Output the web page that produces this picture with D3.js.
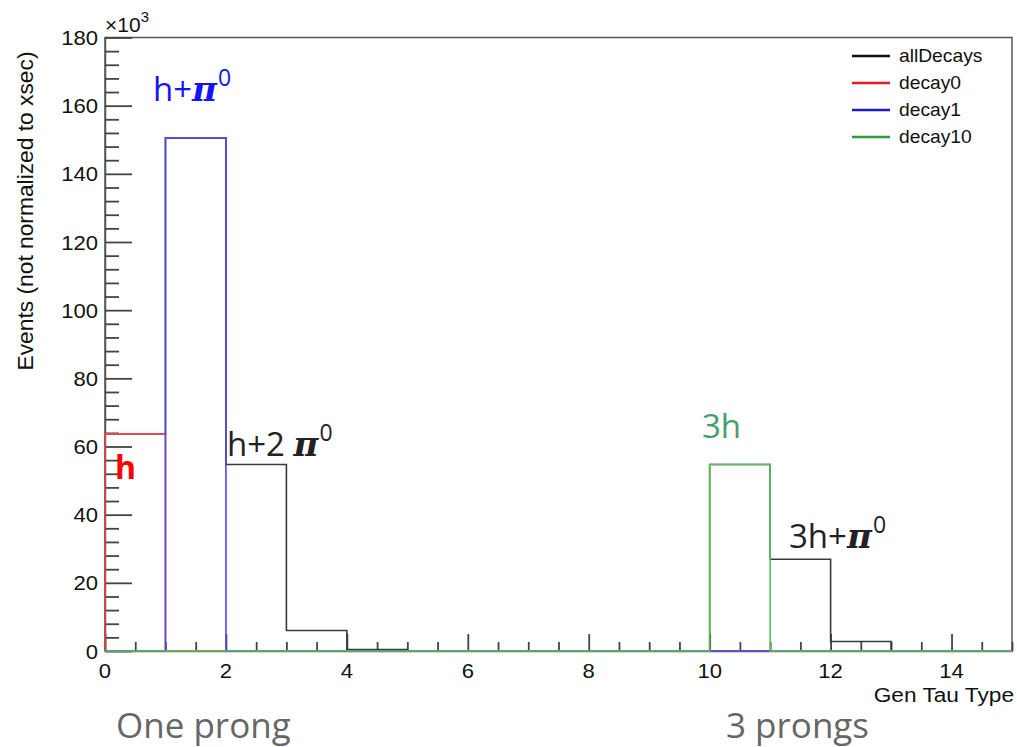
<!DOCTYPE html>
<html>
<head>
<meta charset="utf-8">
<script src="https://cdn.jsdelivr.net/npm/d3@7"></script>
<style>
  html, body { margin: 0; padding: 0; background: #fff; }
  svg { display: block; }
</style>
</head>
<body>
<svg id="chart" width="1017" height="747"></svg>
<script>
// ---- data (units of 10^3 events), one bin per unit of Gen Tau Type ----
const binEdges = [0,1,2,3,4,5,6,7,8,9,10,11,12,13,14,15];
const allDecays = [63.7, 150.5, 54.7, 6.0, 0.4, 0, 0, 0, 0, 0, 54.7, 26.9, 2.8, 0, 0];
const decay0    = [63.7, 0, 0, 0, 0, 0, 0, 0, 0, 0, 0, 0, 0, 0, 0];
const decay1    = [0, 150.5, 0, 0, 0, 0, 0, 0, 0, 0, 0, 0, 0, 0, 0];
const decay10   = [0, 0, 0, 0, 0, 0, 0, 0, 0, 0, 54.7, 0, 0, 0, 0];
const seriesNames = ["allDecays", "decay0", "decay1", "decay10"];
const xTicks = [0, 2, 4, 6, 8, 10, 12, 14];
const yTicks = [0, 20, 40, 60, 80, 100, 120, 140, 160, 180];

const seriesColors = { allDecays: "#3a3a3a", decay0: "#f04848", decay1: "#4a4ae6", decay10: "#5cbf5c" };
const legendColors = { allDecays: "#111", decay0: "#e8191e", decay1: "#1a1ad0", decay10: "#2e9a3a" };

const svg = d3.select("#chart");
const L = 105, R = 1012, T = 37.5, B = 651;
const x = d3.scaleLinear().domain([0, 15]).range([L, R]);
const y = d3.scaleLinear().domain([0, 180]).range([B, T]);

const rootFont = "'Liberation Sans', Arial, Helvetica, sans-serif";
const annFont = "'Open Sans', 'Noto Sans', sans-serif";

// frame
svg.append("rect").attr("x", L).attr("y", T).attr("width", R - L).attr("height", B - T)
  .attr("fill", "none").attr("stroke", "#555").attr("stroke-width", 1.5);

// y axis
const yAxis = d3.axisLeft(y).tickValues(d3.range(0, 181, 4)).tickSize(0).tickFormat("");
const gy = svg.append("g").attr("transform", `translate(${L},0)`).call(yAxis);
gy.select(".domain").attr("stroke", "#555").attr("stroke-width", 1.5);
gy.selectAll(".tick line").remove();
gy.selectAll(".tick").append("line")
  .attr("x1", 0).attr("y1", 0).attr("y2", 0)
  .attr("x2", d => (d % 20 === 0 ? 27 : 14))
  .attr("stroke", "#444").attr("stroke-width", 1.8);
yTicks.forEach(v => {
  svg.append("text").attr("transform", `translate(98,${y(v) + 7.5}) scale(1.05,1)`)
    .attr("text-anchor", "end").attr("font-family", rootFont).attr("font-size", 21)
    .attr("fill", "#111").text(v);
});

// x axis
const xAxis = d3.axisBottom(x).tickValues(d3.range(0, 15.01, 0.5)).tickSize(0).tickFormat("");
const gx = svg.append("g").attr("transform", `translate(0,${B})`).call(xAxis);
gx.select(".domain").attr("stroke", "#555").attr("stroke-width", 1.5);
gx.selectAll(".tick line").remove();
gx.selectAll(".tick").append("line")
  .attr("x1", 0).attr("x2", 0).attr("y1", 0)
  .attr("y2", d => (Math.abs(d % 2) < 1e-9 ? -17 : -9))
  .attr("stroke", "#444").attr("stroke-width", 1.8);
xTicks.forEach(v => {
  svg.append("text").attr("transform", `translate(${x(v)},678) scale(1.05,1)`)
    .attr("text-anchor", "middle").attr("font-family", rootFont).attr("font-size", 21)
    .attr("fill", "#111").text(v);
});

// axis titles
svg.append("text").attr("transform", `translate(1014,702) scale(1.08,1)`)
  .attr("text-anchor", "end").attr("font-family", rootFont).attr("font-size", 21)
  .attr("fill", "#111").text("Gen Tau Type");
svg.append("text").attr("transform", `translate(33,211) rotate(-90) scale(1.06,1)`)
  .attr("text-anchor", "middle").attr("font-family", rootFont).attr("font-size", 21.5)
  .attr("fill", "#111").text("Events (not normalized to xsec)");
const xm = svg.append("text").attr("x", 105).attr("y", 32)
  .attr("font-family", rootFont).attr("font-size", 21).attr("fill", "#111");
xm.append("tspan").text("×10");
xm.append("tspan").attr("dy", -10).attr("font-size", 15).text("3");

// histograms as step outlines
function stepPoints(values) {
  const pts = [[binEdges[0], 0]];
  values.forEach((v, i) => { pts.push([binEdges[i], v]); pts.push([binEdges[i + 1], v]); });
  pts.push([binEdges[binEdges.length - 1], 0]);
  return pts;
}
const line = d3.line().x(d => x(d[0])).y(d => y(d[1]));
const dataMap = { allDecays, decay0, decay1, decay10 };
seriesNames.forEach(name => {
  svg.append("path").attr("d", line(stepPoints(dataMap[name])))
    .attr("fill", "none").attr("stroke", seriesColors[name]).attr("stroke-width", 1.6);
});

// legend
seriesNames.forEach((name, i) => {
  const yy = 56 + i * 27;
  svg.append("line").attr("x1", 852).attr("x2", 890).attr("y1", yy).attr("y2", yy)
    .attr("stroke", legendColors[name]).attr("stroke-width", 2.5);
  svg.append("text").attr("transform", `translate(899,${yy + 6}) scale(1.1,1)`)
    .attr("font-family", rootFont).attr("font-size", 17.5).attr("fill", "#111").text(name);
});

// annotations
function piLabel(xp, yp, pre, color) {
  const t = svg.append("text").attr("x", xp).attr("y", yp)
    .attr("font-family", annFont).attr("font-size", 33).attr("fill", color);
  t.append("tspan").text(pre);
  t.append("tspan").attr("font-family", "'DejaVu Serif', serif").attr("font-weight", "bold")
    .attr("font-style", "italic").attr("font-size", 34).text("π");
  t.append("tspan").attr("dx", 1).attr("dy", -15).attr("font-size", 23).text("0");
}
piLabel(153, 101, "h+", "#1414f5");
piLabel(227, 456, "h+2 ", "#222");
piLabel(789, 548, "3h+", "#222");

svg.append("text").attr("x", 115).attr("y", 479)
  .attr("font-family", annFont).attr("font-weight", "bold").attr("font-size", 32)
  .attr("fill", "#ff0000").text("h");
svg.append("text").attr("x", 702).attr("y", 438)
  .attr("font-family", annFont).attr("font-size", 33).attr("fill", "#43a06c").text("3h");

svg.append("text").attr("x", 116).attr("y", 738)
  .attr("font-family", annFont).attr("font-size", 35).attr("fill", "#666").text("One prong");
svg.append("text").attr("x", 726).attr("y", 738)
  .attr("font-family", annFont).attr("font-size", 35).attr("fill", "#666").text("3 prongs");
</script>
</body>
</html>
